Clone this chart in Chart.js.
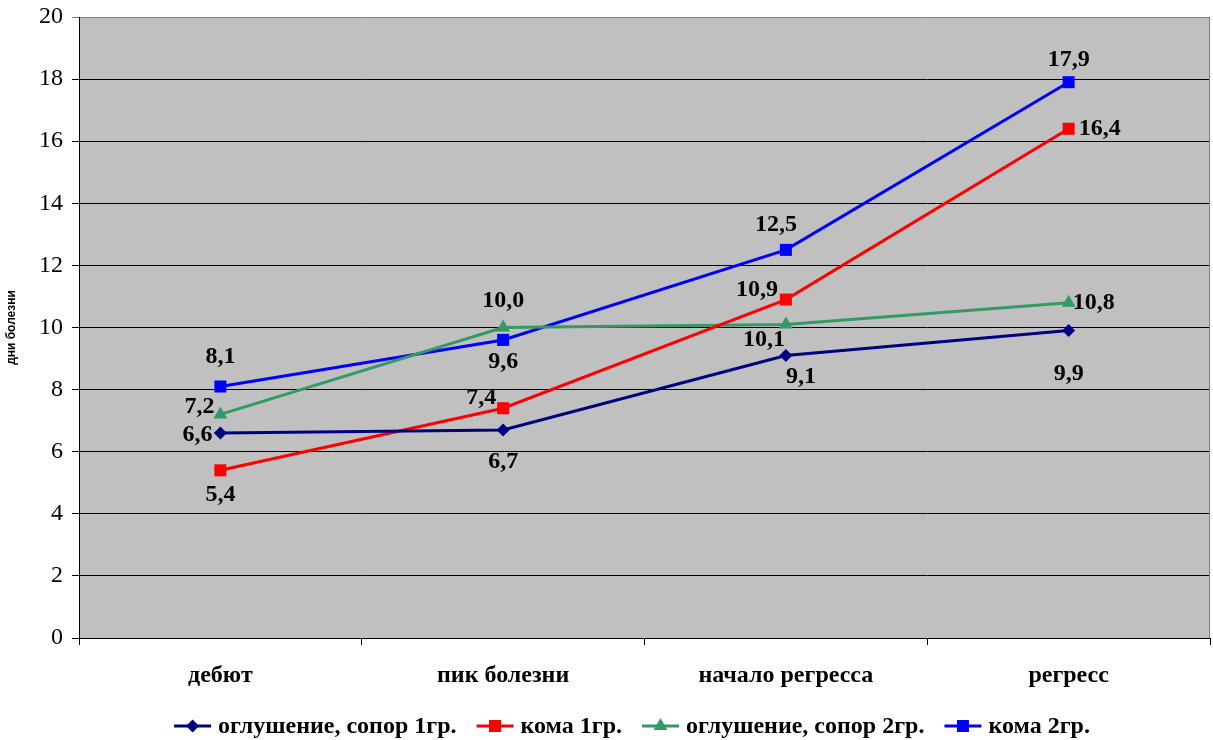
<!DOCTYPE html>
<html><head><meta charset="utf-8">
<script src="https://cdn.jsdelivr.net/npm/chart.js@4"></script>
<style>html,body{margin:0;padding:0;background:#fff}</style>
</head><body>
<canvas id="c" width="1213" height="740"></canvas>
<script>
// ---- data ----
const categories = ['дебют', 'пик болезни', 'начало регресса', 'регресс'];
const seriesNames = ['оглушение, сопор 1гр.', 'кома 1гр.', 'оглушение, сопор 2гр.', 'кома 2гр.'];
const stupor1 = [6.6, 6.7, 9.1, 9.9];
const coma1 = [5.4, 7.4, 10.9, 16.4];
const stupor2 = [7.2, 10.0, 10.1, 10.8];
const coma2 = [8.1, 9.6, 12.5, 17.9];
const yMin = 0, yMax = 20, yStep = 2;
const yTitle = 'дни болезни';

// ---- styles ----
const colors = ['#000080', '#FF0000', '#339966', '#0000FF'];
const pointStyles = ['rectRot', 'rect', 'triangle', 'rect'];
const pointRadii = [6.5, 8.5, 8, 8.5];
// label offsets (dx, dy) relative to each point
const labelOffsets = [
  [[-23, 2], [0, 32], [15, 21], [0, 43]],
  [[0, 24], [-22, -10], [-29, -10], [31, 0]],
  [[-21, -8], [0, -27], [-22, 15], [25, 0]],
  [[0, -30], [0, 22], [-10, -25], [0, -22]]
];
const serif = '"Liberation Serif", "Times New Roman", serif';

const seriesData = [stupor1, coma1, stupor2, coma2];

const labelPlugin = {
  id: 'valueLabels',
  afterDatasetsDraw(chart) {
    const ctx = chart.ctx;
    ctx.save();
    ctx.font = 'bold 24px ' + serif;
    ctx.fillStyle = '#000';
    ctx.textAlign = 'center';
    ctx.textBaseline = 'middle';
    chart.data.datasets.forEach((ds, di) => {
      const meta = chart.getDatasetMeta(di);
      meta.data.forEach((pt, i) => {
        const v = ds.data[i];
        const [dx, dy] = labelOffsets[di][i];
        ctx.fillText(v.toFixed(1).replace('.', ','), pt.x + dx, pt.y + dy);
      });
    });
    ctx.restore();
  }
};

const legendPlugin = {
  id: 'customLegend',
  afterDraw(chart) {
    const ctx = chart.ctx;
    ctx.save();
    ctx.font = 'bold 24px ' + serif;
    const lineW = 37, gap = 7, spacing = 20;
    const widths = seriesNames.map(n => lineW + gap + ctx.measureText(n).width);
    const total = widths.reduce((a, b) => a + b, 0) + spacing * (widths.length - 1);
    const cy = 726;
    let x = 632 - total / 2;
    seriesNames.forEach((n, i) => {
      ctx.strokeStyle = colors[i]; ctx.lineWidth = 3;
      ctx.beginPath(); ctx.moveTo(x, cy); ctx.lineTo(x + lineW, cy); ctx.stroke();
      ctx.fillStyle = colors[i];
      Chart.helpers.drawPoint(ctx, {pointStyle: pointStyles[i], rotation: 0, borderWidth: 0, radius: pointRadii[i]}, x + lineW / 2, cy);
      ctx.fillStyle = '#000';
      ctx.textAlign = 'left'; ctx.textBaseline = 'middle';
      ctx.fillText(n, x + lineW + gap, cy + 1);
      x += widths[i] + spacing;
    });
    ctx.restore();
  }
};

const bgPlugin = {
  id: 'plotBg',
  beforeDraw(chart) {
    const {ctx, chartArea: a} = chart;
    ctx.save();
    ctx.fillStyle = '#C0C0C0';
    ctx.fillRect(a.left, a.top, a.right - a.left, a.bottom - a.top);
    ctx.restore();
  },
  beforeDatasetsDraw(chart) {
    const {ctx, chartArea: a} = chart;
    ctx.save();
    ctx.strokeStyle = '#808080';
    ctx.lineWidth = 1;
    ctx.beginPath();
    ctx.moveTo(a.right - 0.5, a.top);
    ctx.lineTo(a.right - 0.5, a.bottom);
    ctx.stroke();
    ctx.restore();
  }
};

new Chart(document.getElementById('c'), {
  type: 'line',
  data: {
    labels: categories,
    datasets: seriesData.map((d, i) => ({
      label: seriesNames[i],
      data: d,
      borderColor: colors[i],
      backgroundColor: colors[i],
      borderWidth: 3,
      pointStyle: pointStyles[i],
      pointRadius: pointRadii[i],
      pointHoverRadius: pointRadii[i],
      pointBorderWidth: 0,
      tension: 0,
      fill: false,
      clip: false
    }))
  },
  options: {
    responsive: false,
    animation: false,
    layout: {autoPadding: false, padding: {left: 0, top: 17, right: 3, bottom: 32}},
    plugins: {legend: {display: false}, tooltip: {enabled: false}},
    scales: {
      x: {
        offset: true,
        grid: {offset: true, drawOnChartArea: false, color: '#000', tickLength: 7, lineWidth: 1},
        border: {color: '#000', width: 1},
        ticks: {color: '#000', font: {family: serif, size: 24, weight: 'bold'}, padding: 16, maxRotation: 0},
        afterFit(s) { s.height = 70; s.paddingLeft = 0; s.paddingRight = 0; }
      },
      y: {
        min: yMin, max: yMax,
        grid: {color: c => (c.tick && c.tick.value === yMax ? '#808080' : '#000'), tickLength: 7, lineWidth: 1},
        border: {color: '#000', width: 1},
        ticks: {stepSize: yStep, color: '#000', font: {family: serif, size: 24}, padding: 9},
        title: {display: true, text: yTitle, color: '#000', font: {family: '"Liberation Sans", Arial, sans-serif', size: 12, weight: 'bold'}, padding: {top: 4, bottom: 0}},
        afterFit(s) { s.width = 79; s.paddingTop = 0; s.paddingBottom = 0; }
      }
    }
  },
  plugins: [bgPlugin, labelPlugin, legendPlugin]
});
</script>
</body></html>
